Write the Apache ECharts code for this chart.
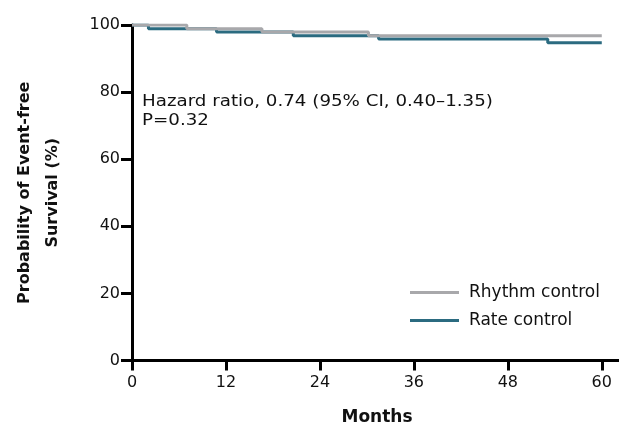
<!DOCTYPE html>
<html>
<head>
<meta charset="utf-8">
<script src="https://cdn.jsdelivr.net/npm/echarts@6/dist/echarts.min.js"></script>
<style>
  html, body { margin: 0; padding: 0; background: #fff; }
  #chart { width: 619px; height: 427px; }
</style>
</head>
<body>
<div id="chart"></div>
<script>
// Kaplan-Meier step points: [month, event-free survival %]
const rhythmControl = [[0, 100], [7, 98.9], [16.6, 97.9], [30.2, 96.8], [60, 96.8]];
const rateControl = [[0, 100], [2.1, 98.9], [10.8, 97.9], [20.6, 96.8], [31.5, 95.8], [53.1, 94.7], [60, 94.7]];

const monthTicks = [0, 12, 24, 36, 48, 60];
const seriesNames = ['Rhythm control', 'Rate control'];
const hazardText = 'Hazard ratio, 0.74 (95% CI, 0.40\u20131.35)';
const pValueText = 'P=0.32';

const FONT = 'DejaVu Sans';
const chart = echarts.init(document.getElementById('chart'));

chart.setOption({
  animation: false,
  backgroundColor: '#ffffff',
  grid: { left: 132, right: 0, top: 25, bottom: 66.5, containLabel: false, outerBoundsMode: 'none' },
  xAxis: {
    type: 'value',
    min: 0,
    max: 62.2,
    axisLine: { show: true, lineStyle: { color: '#000', width: 3 } },
    axisTick: { show: true, length: 10, customValues: monthTicks, lineStyle: { color: '#000', width: 3 } },
    axisLabel: { customValues: monthTicks, color: '#111', fontFamily: FONT, fontSize: 16, margin: 14 },
    splitLine: { show: false }
  },
  yAxis: {
    type: 'value',
    min: 0,
    max: 100,
    interval: 20,
    name: 'Probability of Event-free\nSurvival (%)',
    nameLocation: 'middle',
    nameRotate: 90,
    nameGap: 65,
    nameTextStyle: { color: '#111', fontFamily: FONT, fontSize: 16, lineHeight: 28, fontWeight: 'bold' },
    axisLine: { show: true, lineStyle: { color: '#000', width: 3 } },
    axisTick: { show: true, length: 11, lineStyle: { color: '#000', width: 3 } },
    axisLabel: { color: '#111', fontFamily: FONT, fontSize: 16, margin: 12 },
    splitLine: { show: false }
  },
  legend: {
    orient: 'vertical',
    left: 410,
    top: 284,
    padding: 0,
    data: seriesNames,
    icon: 'rect',
    itemWidth: 49,
    itemHeight: 3,
    itemGap: 11,
    textStyle: { color: '#111', fontFamily: FONT, fontSize: 17, padding: [0, 0, 0, 5] }
  },
  graphic: [
    { type: 'text', left: 142, top: 94, scaleX: 1.14, style: { text: hazardText, fill: '#111', font: '16px "DejaVu Sans"' } },
    { type: 'text', left: 142, top: 113, scaleX: 1.14, style: { text: pValueText, fill: '#111', font: '16px "DejaVu Sans"' } },
    { type: 'text', x: 377, y: 418, style: { text: 'Months', fill: '#111', font: 'bold 17px "DejaVu Sans"', align: 'center', verticalAlign: 'middle' } }
  ],
  series: [
    {
      name: 'Rate control',
      type: 'line',
      step: 'end',
      data: rateControl,
      showSymbol: false,
      lineStyle: { color: '#2b6b80', width: 3 },
      itemStyle: { color: '#2b6b80' },
      z: 2
    },
    {
      name: 'Rhythm control',
      type: 'line',
      step: 'end',
      data: rhythmControl,
      showSymbol: false,
      lineStyle: { color: '#a8a8ab', width: 3 },
      itemStyle: { color: '#a8a8ab' },
      z: 3
    }
  ]
});
</script>
</body>
</html>
